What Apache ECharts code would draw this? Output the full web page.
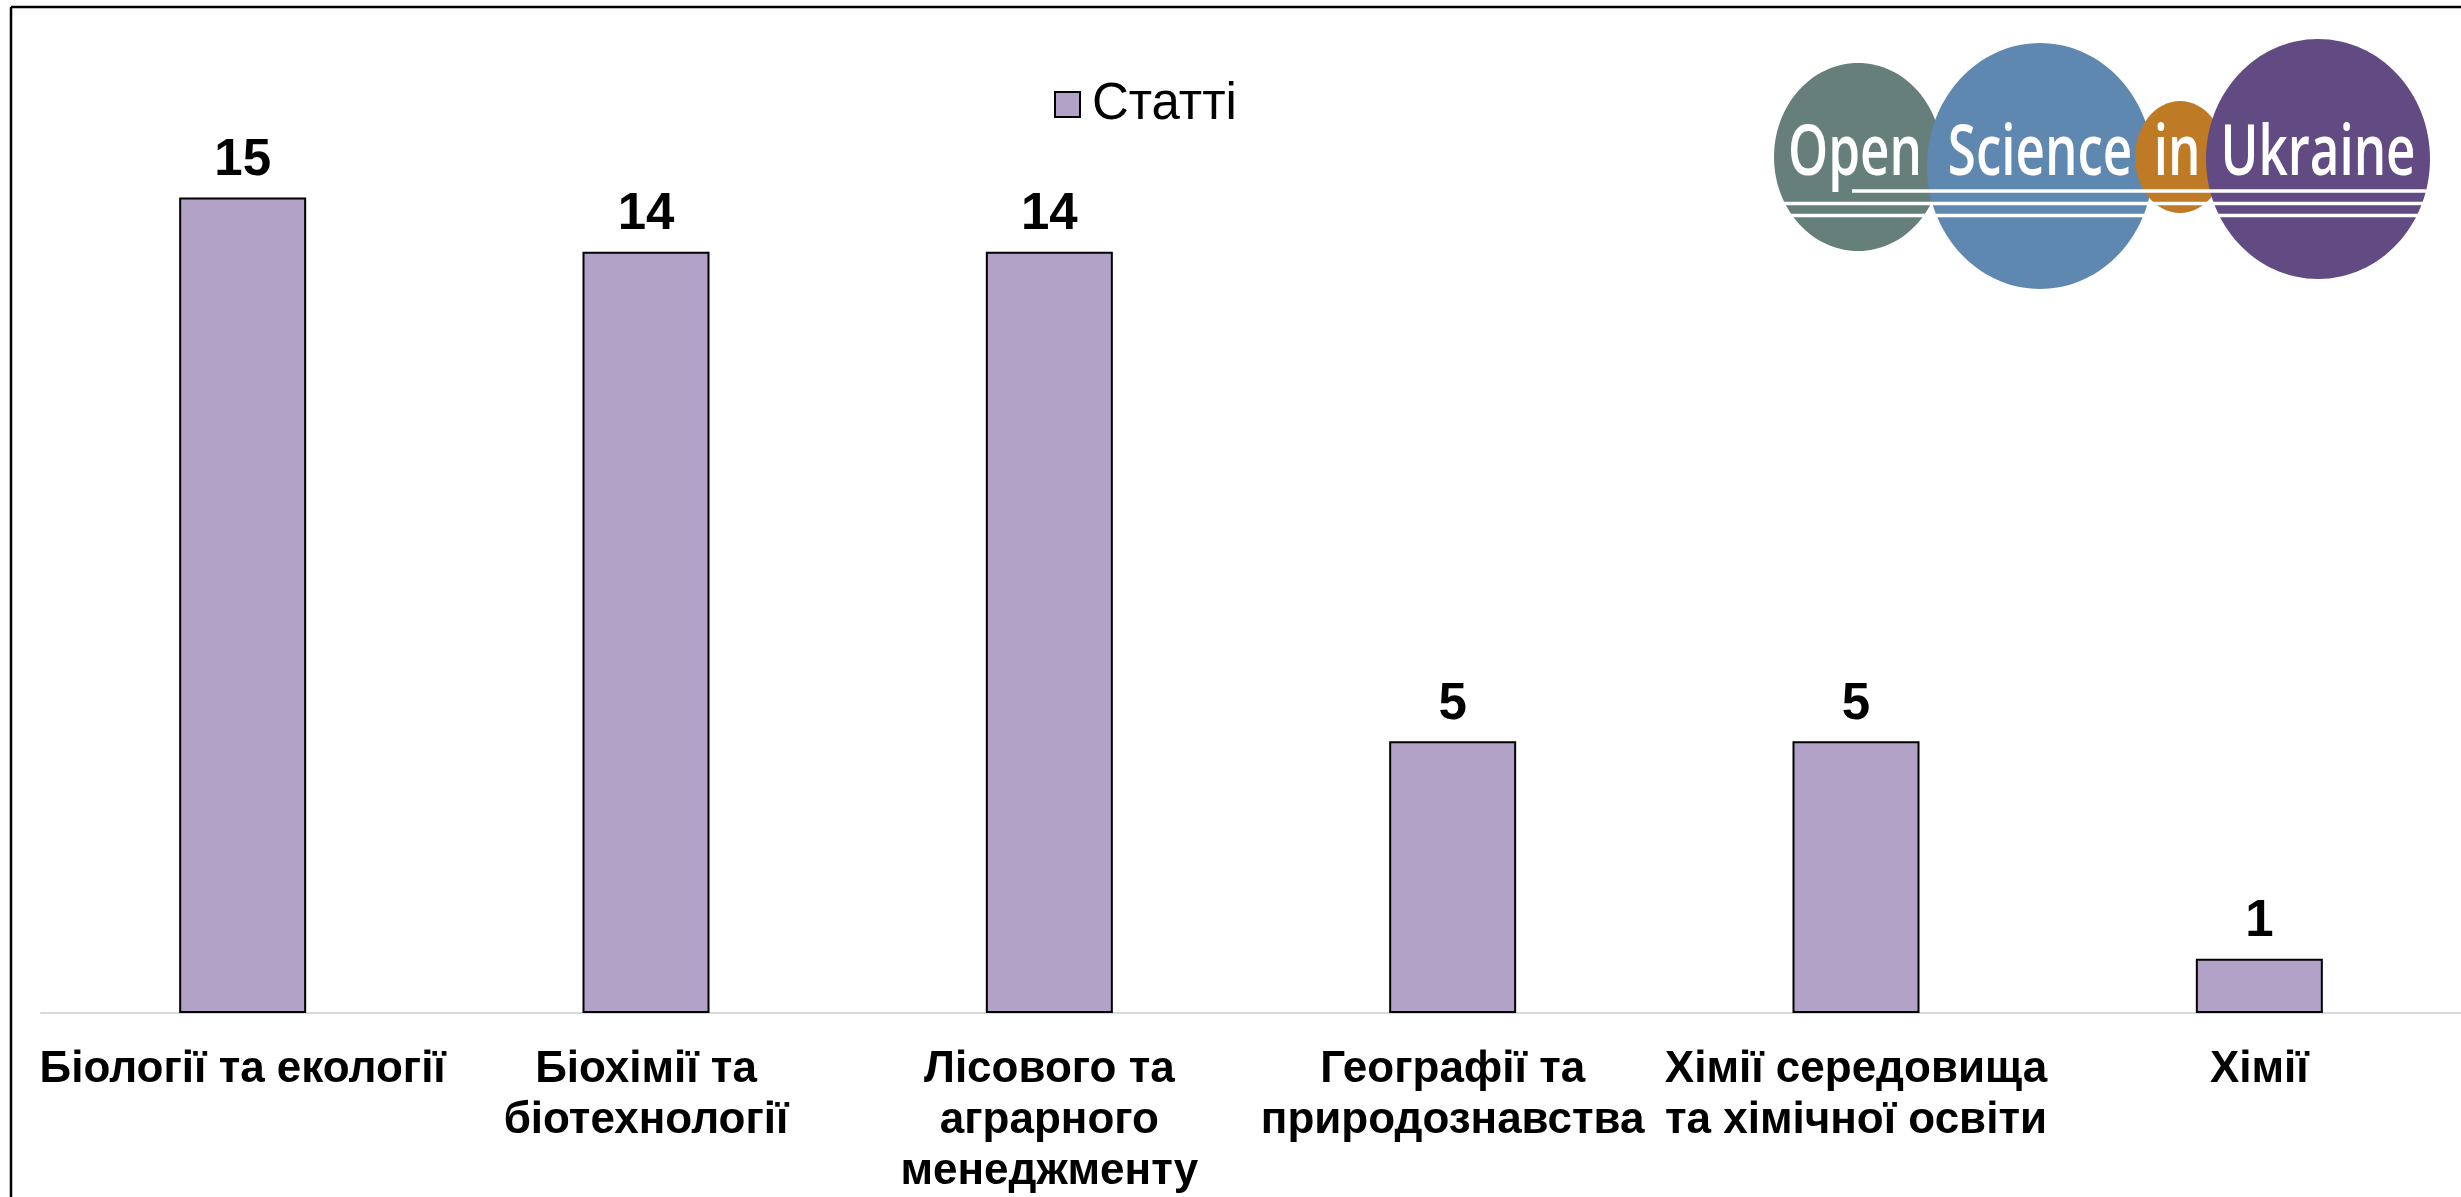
<!DOCTYPE html>
<html>
<head>
<meta charset="utf-8">
<title>Статті</title>
<script src="https://cdn.jsdelivr.net/npm/echarts@6/dist/echarts.min.js"></script>
<style>
  html, body { margin: 0; padding: 0; background: #fff; }
  #chart { width: 2461px; height: 1197px; }
</style>
</head>
<body>
<div id="chart"></div>
<script>
// дані діаграми
const categories = [
  'Біології та екології',
  'Біохімії та\nбіотехнології',
  'Лісового та\nаграрного\nменеджменту',
  'Географії та\nприродознавства',
  'Хімії середовища\nта хімічної освіти',
  'Хімії'
]
const articleCounts = [15, 14, 14, 5, 5, 1]
const seriesName = 'Статті'

const font = '"Liberation Sans", Arial, sans-serif'
const barColor = '#B3A2C7'

// логотип Open Science in Ukraine
const logoFont = '"Open Sans", sans-serif'
const logoWord = (text, cx) => ({
  type: 'text',
  x: cx,
  y: 155,
  scaleX: 0.73,
  z: 20,
  style: {
    text: text,
    x: 0,
    y: 0,
    align: 'center',
    verticalAlign: 'middle',
    fill: '#fff',
    font: '600 70px ' + logoFont
  }
})
const logoLine = (x1, y) => ({
  type: 'line',
  z: 19,
  shape: { x1: x1, y1: y, x2: 2426, y2: y },
  style: { stroke: '#fff', lineWidth: 3.5 }
})

const chart = echarts.init(document.getElementById('chart'))

const option = {
  animation: false,
  legend: {
    data: [seriesName],
    left: 1049,
    top: 74,
    itemWidth: 25,
    itemHeight: 25,
    icon: 'rect',
    textStyle: {
      fontFamily: font,
      fontSize: 51,
      color: '#000',
      padding: [0, 0, 0, 7]
    }
  },
  grid: {
    left: 41,
    right: 0,
    top: 143,
    bottom: 182
  },
  xAxis: {
    type: 'category',
    data: categories,
    axisTick: { show: false },
    axisLine: {
      lineStyle: { color: '#D9D9D9', width: 2 }
    },
    axisLabel: {
      interval: 0,
      margin: 31,
      fontFamily: font,
      fontWeight: 'bold',
      fontSize: 44,
      lineHeight: 51,
      color: '#000',
      align: 'center'
    }
  },
  yAxis: {
    type: 'value',
    min: 0,
    max: 16,
    show: false,
    splitLine: { show: false }
  },
  series: [
    {
      name: seriesName,
      type: 'bar',
      data: articleCounts,
      barWidth: 127,
      itemStyle: {
        color: barColor,
        borderColor: '#000',
        borderWidth: 2
      },
      label: {
        show: true,
        position: 'top',
        distance: 11,
        fontFamily: font,
        fontWeight: 'bold',
        fontSize: 51,
        color: '#000'
      }
    }
  ],
  graphic: [
    // рамка
    {
      type: 'line',
      shape: { x1: 11, y1: 7, x2: 2461, y2: 7 },
      style: { stroke: '#000', lineWidth: 2.5 }
    },
    {
      type: 'line',
      shape: { x1: 11, y1: 7, x2: 11, y2: 1197 },
      style: { stroke: '#000', lineWidth: 2.5 }
    },
    // кола логотипу
    { type: 'ellipse', z: 10, shape: { cx: 1858, cy: 157, rx: 84, ry: 94 }, style: { fill: '#667F7A' } },
    { type: 'ellipse', z: 11, shape: { cx: 2040, cy: 166, rx: 113, ry: 123 }, style: { fill: '#5E88B0' } },
    { type: 'ellipse', z: 12, shape: { cx: 2180, cy: 157, rx: 45, ry: 56 }, style: { fill: '#BF7A26' } },
    { type: 'ellipse', z: 13, shape: { cx: 2318, cy: 159, rx: 112, ry: 120 }, style: { fill: '#624A83' } },
    logoLine(1852, 191),
    logoLine(1770, 203.5),
    logoLine(1770, 215.5),
    logoWord('Open', 1855),
    logoWord('Science', 2040),
    logoWord('in', 2177),
    logoWord('Ukraine', 2318)
  ]
}

chart.setOption(option)
</script>
</body>
</html>
